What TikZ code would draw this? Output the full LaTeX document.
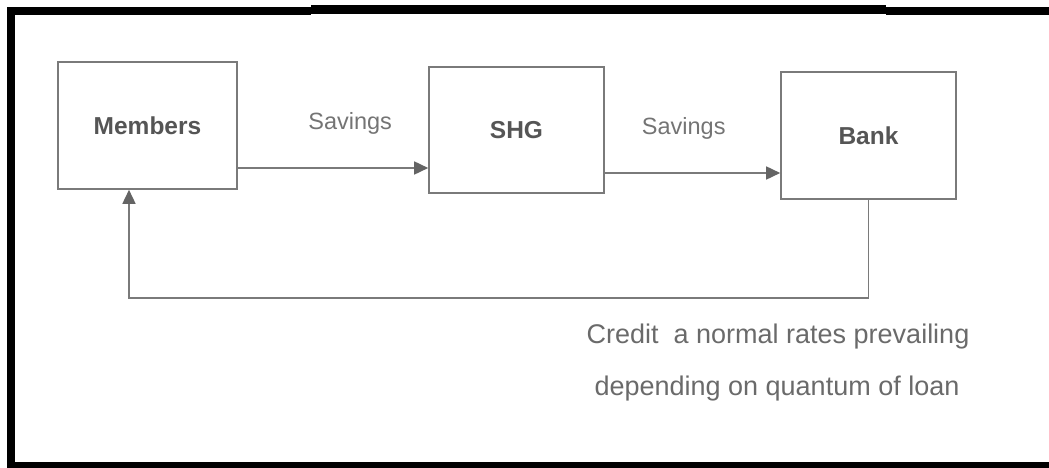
\documentclass[tikz,border=0pt]{standalone}
\usepackage{fontspec}
\setmainfont{Liberation Sans}
\usetikzlibrary{arrows.meta}
\definecolor{boxline}{HTML}{7A7A7A}
\definecolor{tipcol}{HTML}{646464}
\definecolor{boxtext}{HTML}{555555}
\definecolor{labeltext}{HTML}{747474}
\definecolor{notetext}{HTML}{6A6A6A}
\tikzset{
  block/.style={draw=boxline, line width=1.6pt, inner sep=0pt, font=\bfseries\fontsize{24.5}{29}\selectfont, text=boxtext},
  flow/.style={draw=boxline, line width=1.6pt, -{Triangle[length=14pt,width=13pt,fill=tipcol,color=tipcol]}},
  flowlabel/.style={inner sep=0pt, font=\fontsize{23.5}{28}\selectfont, text=labeltext},
  note/.style={inner sep=0pt, anchor=base, font=\fontsize{27}{32}\selectfont, text=notetext},
  frame/.style={fill=black, draw=none}
}
\begin{document}
\begin{tikzpicture}[x=1pt, y=-1pt]
  \useasboundingbox (0,0) rectangle (1049,468);
  % outer frame
  \fill[frame] (7,7) rectangle (311,15);
  \fill[frame] (311,5) rectangle (886,14);
  \fill[frame] (886,7) rectangle (1049,15);
  \fill[frame] (7,7) rectangle (15,468);
  \fill[frame] (7,462) rectangle (1049,468);

  % blocks
  \node[block, minimum width=179pt, minimum height=127pt] (members) at (147.5,125.5) {Members};
  \node[block, minimum width=175pt, minimum height=126pt] (shg) at (516.5,130) {SHG};
  \node[block, minimum width=175pt, minimum height=127pt] (bank) at (868.5,135.5) {Bank};

  % levels of the connectors
  \coordinate (lvlA) at (0,168);
  \coordinate (lvlB) at (0,173);
  \coordinate (back) at (129,298);

  % savings flows
  \draw[flow] (members.east |- lvlA) -- node[flowlabel, pos=0.59, yshift=45pt] (sav1) {Savings} (shg.west |- lvlA);
  \draw[flow] (shg.east |- lvlB) -- node[flowlabel, pos=0.45, yshift=45pt] (sav2) {Savings} (bank.west |- lvlB);

  % credit back to members
  \draw[flow] (bank.south) |- (back) -- (members.south -| back);

  \node[note] (credit1) at (778,343) {Credit\ \ a normal rates prevailing};
  \node[note] (credit2) at (777,395) {depending on quantum of loan};
\end{tikzpicture}
\end{document}
